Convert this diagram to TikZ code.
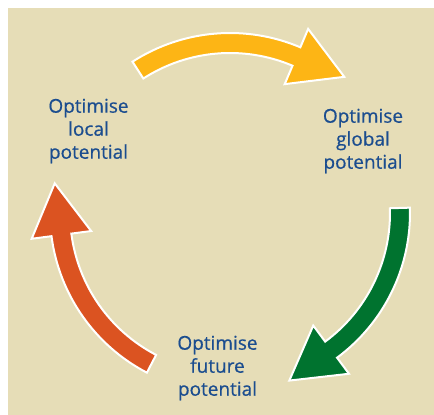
\documentclass[tikz,border=0pt]{standalone}
\usepackage{fontspec}
\setmainfont{Open Sans}[FakeBold=0.6]
\usetikzlibrary{calc}
\definecolor{bgbeige}{HTML}{E6DDB7}
\definecolor{arrowyellow}{HTML}{FDB515}
\definecolor{arrowgreen}{HTML}{00732F}
\definecolor{arroworange}{HTML}{DB5321}
\definecolor{labelblue}{HTML}{1B4D8F}
\tikzset{
  cyclearrow/.style={draw=white, line width=2pt, line join=miter},
  steplabel/.style={align=center, text=labelblue, font=\fontsize{19}{23}\selectfont, inner sep=0pt}
}
% #1 colour, #2 start angle, #3 head-base angle
\newcommand{\cyclearrowdraw}[3]{%
  \path[cyclearrow, fill=#1]
    ($(c)+(#2:160)$) arc[start angle=#2, end angle=#3, radius=160]
    -- ($(c)+(#3:140)$)
    -- ($(c)+(#3:170)+(#3+90:52)$)
    -- ($(c)+(#3:200)$)
    -- ($(c)+(#3:180)$)
    arc[start angle=#3, end angle=#2, radius=180]
    -- cycle;}
\begin{document}
\begin{tikzpicture}[x=1pt, y=-1pt]
  \useasboundingbox (0,0) rectangle (434,415);
  \fill[bgbeige] (8,8) rectangle (434,415);
  \coordinate (c) at (230,213);
  \cyclearrowdraw{arrowyellow}{-122.8}{-67}
  \cyclearrowdraw{arrowgreen}{-1.7}{53.5}
  \cyclearrowdraw{arroworange}{117.5}{172.6}
  \node[steplabel] (local) at (88.5,131) {Optimise\\local\\potential};
  \node[steplabel] (global) at (363,141) {Optimise\\global\\potential};
  \node[steplabel] (future) at (217.5,368) {Optimise\\future\\potential};
\end{tikzpicture}
\end{document}
